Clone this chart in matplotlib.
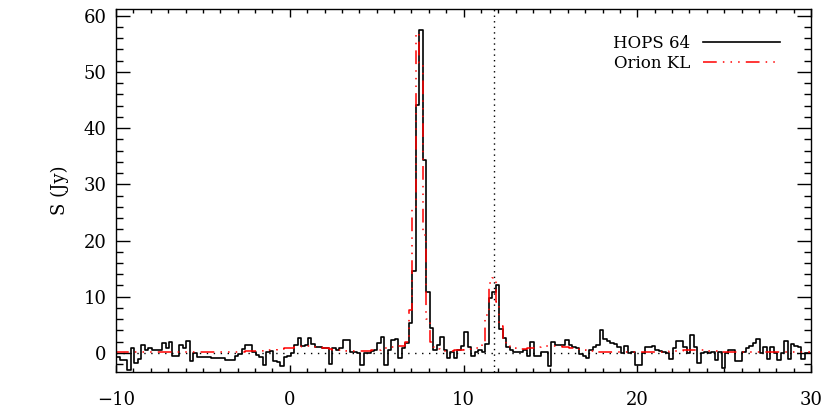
import numpy as np
import matplotlib.pyplot as plt

# channel grid (km/s)
v_start = -10.05
dv = 0.2

# HOPS 64 spectrum (Jy), one value per channel
hops64 = [
    -0.8, -0.8, -1.2, -1.2, -3.0, 0.8, -1.8, -1.0, 1.4, 0.6,
    0.8, 0.6, 0.6, 0.6, 1.8, 0.8, 2.0, -0.6, -0.6, 1.4,
    0.8, 2.2, -1.5, 0.0, -0.8, -0.8, -0.8, -0.8, -0.9, -0.9,
    -0.9, -0.9, -1.3, -1.3, -1.2, -0.6, -0.2, 0.7, 1.4, 1.4,
    0.1, -0.4, -0.7, -2.1, 0.2, 0.4, -1.4, -1.6, -2.4, -0.8,
    -0.5, 0.0, 1.4, 2.7, 1.3, 1.4, 2.7, 1.5, 1.1, 1.0,
    0.9, 0.8, -1.9, 0.8, 0.6, 0.8, 2.3, 2.3, 0.2, 0.2,
    0.0, -2.1, 0.0, 0.0, 0.3, 0.5, 1.7, 2.9, -2.1, 0.5,
    2.3, 2.4, -0.9, 0.8, 1.8, 5.3, 14.5, 44.1, 57.5, 34.3,
    10.9, 4.4, 0.6, 1.4, 2.9, 0.5, -0.9, 0.1, -0.9, 0.5,
    1.2, 3.7, 1.0, -0.5, 0.2, 0.5, 0.2, 1.5, 9.8, 10.8,
    12.0, 4.2, 2.6, 1.1, 0.5, 0.2, 0.2, 0.2, 0.6, -0.5,
    2.0, -0.5, -0.5, 0.2, 0.2, -2.4, 2.0, 1.4, 1.4, 1.4,
    2.3, 1.4, 1.0, 0.8, -0.2, -0.6, -0.9, 0.5, 1.1, 1.4,
    4.1, 2.4, 2.2, 1.8, 1.5, 1.0, -0.1, 1.2, 0.0, 0.2,
    -2.1, -2.1, 0.0, 1.0, 1.1, 1.2, 0.5, 0.4, 0.1, 0.0,
    -1.1, 0.8, 2.2, 2.2, 1.1, 0.0, 3.2, 1.1, -1.8, -0.1,
    0.2, 0.0, 0.2, -1.2, 0.2, -2.7, -0.1, 0.6, 0.6, -1.4,
    -1.4, 0.2, 0.8, 1.2, 1.7, 2.4, -0.1, 1.1, -1.1, 1.1,
    0.0, -1.2, 0.0, 2.2, -1.1, 1.6, 1.2, 1.0, -1.1, -0.1,
    0.0,
]

# Orion KL spectrum (Jy)
orion_kl = [
    0.2, 0.2, 0.2, 0.2, 0.2, 0.2, 0.2, 0.2, 0.2, 0.2,
    0.2, 0.2, 0.2, 0.2, 0.2, 0.2, 0.1, 0.1, 0.1, 0.1,
    0.1, 0.1, 0.2, 0.2, 0.2, 0.1, 0.1, 0.1, 0.1, 0.1,
    0.1, 0.1, 0.1, 0.1, 0.1, 0.1, 0.2, 0.2, 0.3, 0.3,
    0.4, 0.4, 0.4, 0.5, 0.5, 0.6, 0.6, 0.7, 0.7, 0.8,
    0.8, 0.9, 1.0, 1.1, 1.2, 1.3, 1.3, 1.2, 1.1, 1.0,
    0.9, 0.8, 0.7, 0.6, 0.6, 0.5, 0.5, 0.4, 0.4, 0.3,
    0.3, 0.3, 0.4, 0.4, 0.5, 0.5, 0.6, 0.7, 0.8, 0.9,
    1.0, 1.1, 1.2, 1.3, 2.0, 7.6, 25.8, 57.0, 51.6, 21.0,
    6.0, 2.0, 1.0, 0.7, 0.5, 0.4, 0.4, 0.4, 0.5, 0.6,
    0.6, 0.7, 0.7, 0.8, 0.8, 1.0, 2.0, 6.8, 12.4, 13.3,
    9.1, 4.7, 2.3, 1.2, 1.0, 0.8, 0.7, 0.7, 0.7, 0.8,
    0.9, 1.0, 1.1, 1.2, 1.2, 1.3, 1.3, 1.2, 1.2, 1.1,
    1.0, 0.9, 0.8, 0.7, 0.6, 0.5, 0.4, 0.3, 0.3, 0.2,
    0.2, 0.2, 0.2, 0.1, 0.1, 0.1, 0.1, 0.1, 0.1, 0.1,
    0.1, 0.1, 0.1, 0.1, 0.1, 0.2, 0.2, 0.2, 0.2, 0.2,
    0.3, 0.3, 0.4, 0.4, 0.5, 0.5, 0.6, 0.6, 0.6, 0.5,
    0.5, 0.4, 0.4, 0.3, 0.3, 0.2, 0.2, 0.2, 0.1, 0.1,
    0.1, 0.1, 0.1, 0.1, 0.1, 0.1, 0.1, 0.1, 0.1, 0.1,
    0.1, 0.1, 0.1, 0.1, 0.1, 0.1, 0.1, 0.1, 0.1, 0.1,
    0.1,
]

v_ref = 11.77  # vertical dotted marker
labels = ['HOPS 64', 'Orion KL']

plt.rcParams['font.family'] = ['DejaVu Serif']
plt.rcParams['mathtext.default'] = 'regular'

vel = v_start + dv * np.arange(len(hops64))

fig = plt.figure(figsize=(8.3, 4.15), dpi=100)
ax = fig.add_axes([116 / 830, 1 - 372 / 415, 695 / 830, 363 / 415])

ax.axhline(0, color='black', lw=1.0, ls=(0, (1, 4)))
ax.axvline(v_ref, color='black', lw=1.0, ls=(0, (1, 3)))

ax.step(vel, hops64, where='mid', color='black', lw=1.2, label=labels[0])
ax.step(vel, orion_kl, where='mid', color='red', lw=1.1,
        ls=(0, (9, 4, 1, 4, 1, 4, 1, 4)), label=labels[1])

ax.set_xlim(-10, 30)
ax.set_ylim(-3.4, 61.2)
ax.set_xticks([-10, 0, 10, 20, 30])
ax.set_yticks([0, 10, 20, 30, 40, 50, 60])
ax.set_xticks(np.arange(-10, 31, 1), minor=True)
ax.set_yticks(np.arange(-2, 61, 2), minor=True)

ax.tick_params(axis='both', which='both', direction='in', top=True, right=True,
               labelsize=13, width=1.0)
ax.tick_params(axis='x', which='major', length=5.4, pad=14)
ax.tick_params(axis='x', which='minor', length=2.7)
ax.tick_params(axis='y', which='major', length=10, pad=7)
ax.tick_params(axis='y', which='minor', length=5)
for s in ax.spines.values():
    s.set_linewidth(1.0)

ax.set_ylabel('S (Jy)', fontsize=13, labelpad=10)

ax.legend(loc='upper right', bbox_to_anchor=(0.965, 0.948), frameon=False,
          markerfirst=False, fontsize=12, handlelength=4.6,
          handletextpad=0.8, labelspacing=0.2, borderaxespad=0)

fig.savefig('out.png', dpi=100)
